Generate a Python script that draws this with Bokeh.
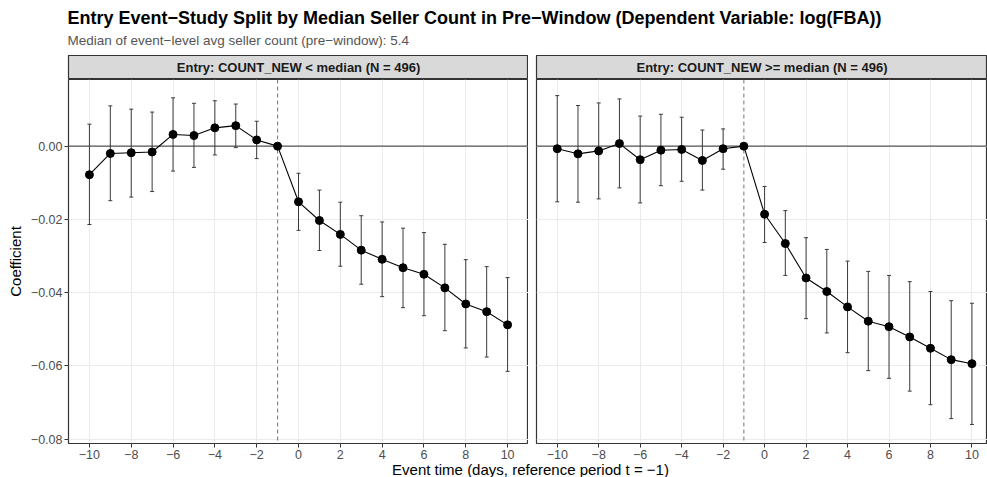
from bokeh.plotting import figure
from bokeh.models import (Range1d, Span, Whisker, TeeHead, ColumnDataSource, Label,
                          FixedTicker, CustomJSTickFormatter)
from bokeh.layouts import column, row
from bokeh.embed import file_html
from bokeh.resources import INLINE

# ---------------- data ----------------
event_time = [-10, -9, -8, -7, -6, -5, -4, -3, -2, -1, 0, 1, 2, 3, 4, 5, 6, 7, 8, 9, 10]

low_coef = [-0.0078, -0.0020, -0.0018, -0.0016, 0.0032, 0.0029, 0.0050, 0.0056, 0.0017, 0.0,
            -0.0152, -0.0203, -0.0241, -0.0284, -0.0309, -0.0332, -0.0350, -0.0387, -0.0431, -0.0452, -0.0488]
low_ci_lo = [-0.0214, -0.0149, -0.0139, -0.0124, -0.0068, -0.0058, -0.0024, -0.0004, -0.0034, 0.0,
             -0.0230, -0.0285, -0.0328, -0.0377, -0.0411, -0.0441, -0.0463, -0.0504, -0.0551, -0.0576, -0.0615]
low_ci_hi = [0.0060, 0.0110, 0.0101, 0.0093, 0.0132, 0.0117, 0.0124, 0.0115, 0.0068, 0.0,
             -0.0074, -0.0120, -0.0153, -0.0190, -0.0207, -0.0224, -0.0236, -0.0268, -0.0310, -0.0329, -0.0359]

high_coef = [-0.0007, -0.0021, -0.0013, 0.0007, -0.0037, -0.0011, -0.0009, -0.0039, -0.0007, 0.0,
             -0.0186, -0.0266, -0.0360, -0.0397, -0.0439, -0.0478, -0.0493, -0.0521, -0.0552, -0.0583, -0.0594]
high_ci_lo = [-0.0152, -0.0153, -0.0144, -0.0114, -0.0155, -0.0108, -0.0096, -0.0120, -0.0063, 0.0,
              -0.0263, -0.0353, -0.0471, -0.0510, -0.0564, -0.0613, -0.0634, -0.0669, -0.0706, -0.0744, -0.0760]
high_ci_hi = [0.0138, 0.0111, 0.0118, 0.0129, 0.0082, 0.0087, 0.0079, 0.0044, 0.0047, 0.0,
              -0.0110, -0.0176, -0.0250, -0.0282, -0.0314, -0.0342, -0.0353, -0.0370, -0.0397, -0.0422, -0.0429]

x_ticks = [-10, -8, -6, -4, -2, 0, 2, 4, 6, 8, 10]
y_ticks = [-0.08, -0.06, -0.04, -0.02, 0.0]

title_text = "Entry Event\u2212Study Split by Median Seller Count in Pre\u2212Window (Dependent Variable: log(FBA))"
subtitle_text = "Median of event\u2212level avg seller count (pre\u2212window): 5.4"
strip_labels = ["Entry: COUNT_NEW < median (N = 496)", "Entry: COUNT_NEW >= median (N = 496)"]
x_title = "Event time (days, reference period t = \u22121)"
y_title = "Coefficient"
ref_period = -1

FONT = "Liberation Sans"
W = 987
HEADER_H = 55
STRIP_H = 24
PANEL_H = 382
FOOTER_H = 477 - HEADER_H - STRIP_H - PANEL_H


def blank(width, height, left=0):
    p = figure(width=width, height=height, x_range=Range1d(0, 1), y_range=Range1d(0, 1),
               x_axis_type=None, y_axis_type=None, toolbar_location=None,
               output_backend="svg", min_border_left=left, min_border_right=0,
               min_border_top=0, min_border_bottom=0)
    p.grid.visible = False
    p.outline_line_color = None
    p.border_fill_color = "white"
    return p


# ---------------- header ----------------
header = figure(width=W, height=HEADER_H, x_range=Range1d(0, W), y_range=Range1d(0, HEADER_H),
                x_axis_type=None, y_axis_type=None, toolbar_location=None,
                output_backend="svg", min_border=0)
header.grid.visible = False
header.outline_line_color = None
header.add_layout(Label(x=67, y=HEADER_H - 17, text=title_text, text_baseline="middle",
                        text_font=FONT, text_font_size="18px", text_font_style="bold",
                        text_color="black"))
header.add_layout(Label(x=67, y=HEADER_H - 40, text=subtitle_text, text_baseline="middle",
                        text_font=FONT, text_font_size="13.5px", text_color="#555555"))


# ---------------- strips ----------------
def strip(width, left, label):
    s = blank(width, STRIP_H, left)
    s.background_fill_color = "#d9d9d9"
    s.outline_line_color = "#333333"
    s.outline_line_width = 1.2
    s.add_layout(Label(x=0.5, y=0.5, text=label, text_align="center", text_baseline="middle",
                       text_font=FONT, text_font_size="13px", text_font_style="bold",
                       text_color="#1a1a1a"))
    return s


strip_l = strip(528, 68, strip_labels[0])
strip_r = strip(W - 528, 8, strip_labels[1])


# ---------------- panels ----------------
def panel(width, left, x_end, coef, lo, hi, show_y):
    p = figure(width=width, height=PANEL_H, x_range=Range1d(-11, x_end),
               y_range=Range1d(-0.0812, 0.0182), toolbar_location=None,
               output_backend="svg", min_border_left=left, min_border_right=0,
               min_border_top=0, min_border_bottom=0)
    p.background_fill_color = "white"
    p.border_fill_color = "white"
    p.outline_line_color = "#333333"
    p.outline_line_width = 1.2

    p.xaxis.ticker = FixedTicker(ticks=x_ticks)
    p.yaxis.ticker = FixedTicker(ticks=y_ticks)
    p.xgrid.ticker = FixedTicker(ticks=x_ticks)
    p.ygrid.ticker = FixedTicker(ticks=y_ticks)
    p.grid.grid_line_color = "#ebebeb"
    p.grid.grid_line_width = 1

    p.xaxis.formatter = CustomJSTickFormatter(
        code="return (tick < 0 ? '\\u2212' : '') + Math.abs(tick).toFixed(0);")
    p.yaxis.formatter = CustomJSTickFormatter(
        code="return (tick < -1e-9 ? '\\u2212' : '') + Math.abs(tick).toFixed(2);")

    for ax in (p.xaxis, p.yaxis):
        ax.axis_line_color = None
        ax.major_tick_line_color = "#333333"
        ax.major_tick_out = 4
        ax.major_tick_in = 0
        ax.minor_tick_line_color = None
        ax.major_label_text_font = FONT
        ax.major_label_text_font_size = "12.5px"
        ax.major_label_text_color = "#4d4d4d"
        ax.major_label_standoff = 2

    if show_y:
        p.yaxis.axis_label = y_title
        p.yaxis.axis_label_text_font = FONT
        p.yaxis.axis_label_text_font_size = "15px"
        p.yaxis.axis_label_text_font_style = "normal"
        p.yaxis.axis_label_text_color = "black"
        p.yaxis.axis_label_standoff = 4
    else:
        p.yaxis.visible = False

    zero = Span(location=0, dimension="width", line_color="#555555", line_width=1.1,
                level="underlay")
    vref = Span(location=ref_period, dimension="height", line_color="#808080", line_width=1.1,
                line_dash="4 3", level="underlay")
    p.add_layout(zero)
    p.add_layout(vref)

    src = ColumnDataSource(dict(t=event_time, coef=coef, lo=lo, hi=hi))
    wh = Whisker(source=src, base="t", upper="hi", lower="lo",
                 line_color="#3a3a3a", line_width=1,
                 upper_head=TeeHead(size=4, line_color="#3a3a3a", line_width=1),
                 lower_head=TeeHead(size=4, line_color="#3a3a3a", line_width=1),
                 level="underlay")
    p.add_layout(wh)
    p.line("t", "coef", source=src, line_color="black", line_width=1.1)
    p.scatter("t", "coef", source=src, size=8, fill_color="black", line_color="black")
    return p


panel_l = panel(528, 68, 11, low_coef, low_ci_lo, low_ci_hi, True)
panel_r = panel(W - 528, 8, 10.75, high_coef, high_ci_lo, high_ci_hi, False)

# ---------------- footer ----------------
footer = figure(width=W, height=FOOTER_H, x_range=Range1d(0, W), y_range=Range1d(0, FOOTER_H),
                x_axis_type=None, y_axis_type=None, toolbar_location=None,
                output_backend="svg", min_border=0)
footer.grid.visible = False
footer.outline_line_color = None
footer.add_layout(Label(x=530, y=FOOTER_H / 2, text=x_title, text_align="center",
                        text_baseline="middle", text_font=FONT, text_font_size="15px",
                        text_color="black"))

layout = column(header, row(strip_l, strip_r), row(panel_l, panel_r), footer)

with open("out.html", "w", encoding="utf-8") as f:
    f.write(file_html(layout, INLINE))
